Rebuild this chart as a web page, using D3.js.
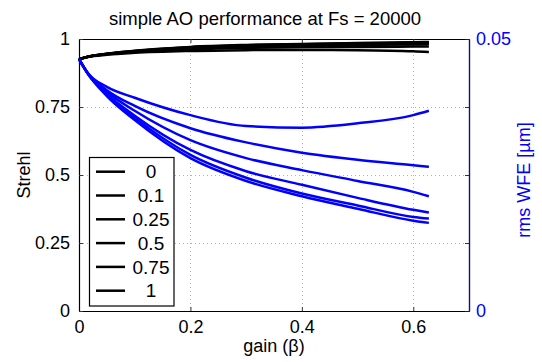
<!DOCTYPE html>
<html>
<head>
<meta charset="utf-8">
<script src="https://cdn.jsdelivr.net/npm/d3@7"></script>
<style>
  body { margin: 0; background: #fff; }
  svg { display: block; font-family: "Liberation Sans", Arial, Helvetica, sans-serif; }
</style>
</head>
<body>
<svg class="canvas"></svg>
<script>
// Data
const gain = [0, 0.016, 0.05, 0.1, 0.2, 0.3, 0.4, 0.5, 0.6, 0.628];

// Strehl (left axis), one row per curve
const strehl = [
  [0.926, 0.934, 0.942, 0.949, 0.956, 0.959, 0.960, 0.959, 0.955, 0.952],
  [0.926, 0.935, 0.944, 0.952, 0.962, 0.967, 0.970, 0.971, 0.972, 0.972],
  [0.926, 0.935, 0.945, 0.954, 0.966, 0.972, 0.976, 0.978, 0.980, 0.981],
  [0.926, 0.935, 0.945, 0.955, 0.968, 0.975, 0.979, 0.982, 0.985, 0.985],
  [0.926, 0.935, 0.946, 0.956, 0.970, 0.977, 0.981, 0.984, 0.987, 0.988],
  [0.926, 0.935, 0.946, 0.957, 0.971, 0.978, 0.982, 0.985, 0.988, 0.989]
];

// rms WFE in microns (right axis)
const wfe = [
  [0.0463, 0.0437, 0.0412, 0.0392, 0.0360, 0.0340, 0.0337, 0.0345, 0.0360, 0.0368],
  [0.0463, 0.0437, 0.0406, 0.0377, 0.0336, 0.0310, 0.0291, 0.0278, 0.0268, 0.0265],
  [0.0463, 0.0437, 0.0403, 0.0368, 0.0314, 0.0281, 0.0259, 0.0239, 0.0219, 0.0211],
  [0.0463, 0.0436, 0.0399, 0.0359, 0.0296, 0.0257, 0.0232, 0.0208, 0.0186, 0.0181],
  [0.0463, 0.0436, 0.0397, 0.0355, 0.0287, 0.0245, 0.0216, 0.0194, 0.0173, 0.0170],
  [0.0463, 0.0436, 0.0395, 0.0351, 0.0281, 0.0239, 0.0211, 0.0188, 0.0166, 0.0162]
];

const legendLabels = ['0', '0.1', '0.25', '0.5', '0.75', '1'];
const xTicks = [0, 0.2, 0.4, 0.6];
const yTicks = [0, 0.25, 0.5, 0.75, 1];
const yTickLabels = ['0', '0.25', '0.5', '0.75', '1'];
const rightTicks = [0, 0.05];
const rightTickLabels = ['0', '0.05'];

// Setting constants
const wWidth = 542;
const wHeight = 362;
const plot = {left: 79, right: 469, top: 39, bottom: 311};
const blue = '#0000ff';
const font = 18;

const svg = d3.select('.canvas')
  .attr('width', wWidth)
  .attr('height', wHeight);

// scales
const xScale = d3.scaleLinear().domain([0, 0.7]).range([plot.left, plot.right]);
const yScale = d3.scaleLinear().domain([0, 1]).range([plot.bottom, plot.top]);
const y2Scale = d3.scaleLinear().domain([0, 0.05]).range([plot.bottom, plot.top]);

// grid
const grid = svg.append('g')
  .attr('stroke', '#b4b4b4')
  .attr('stroke-width', 1)
  .attr('stroke-dasharray', '1,3');
grid.selectAll('.gx')
  .data(xTicks.filter(d => d > 0))
  .enter().append('line')
  .attr('x1', d => Math.round(xScale(d)) + 0.5)
  .attr('x2', d => Math.round(xScale(d)) + 0.5)
  .attr('y1', plot.top)
  .attr('y2', plot.bottom);
grid.selectAll('.gy')
  .data(yTicks.filter(d => d > 0 && d < 1))
  .enter().append('line')
  .attr('y1', d => Math.round(yScale(d)) + 0.5)
  .attr('y2', d => Math.round(yScale(d)) + 0.5)
  .attr('x1', plot.left)
  .attr('x2', plot.right);

// axes (MATLAB style, inward ticks)
const xAxisB = d3.axisBottom(xScale).tickValues(xTicks).tickSizeInner(-4).tickSizeOuter(0).tickPadding(9)
  .tickFormat(d => d === 0 ? '0' : d3.format('.1f')(d));
const xAxisT = d3.axisTop(xScale).tickValues(xTicks).tickSizeInner(-4).tickSizeOuter(0).tickFormat('');
const yAxisL = d3.axisLeft(yScale).tickValues(yTicks).tickSizeInner(-4).tickSizeOuter(0).tickPadding(9)
  .tickFormat((d, i) => yTickLabels[i]);
const yAxisR = d3.axisRight(yScale).tickValues(yTicks).tickSizeInner(-4).tickSizeOuter(0).tickFormat('');
const y2Axis = d3.axisRight(y2Scale).tickValues(rightTicks).tickSizeInner(-4).tickSizeOuter(0).tickPadding(7)
  .tickFormat((d, i) => rightTickLabels[i]);

function styleAxis(g, color) {
  g.attr('font-size', font).attr('font-family', null);
  g.select('.domain').attr('stroke', color).attr('stroke-width', 1.2);
  g.selectAll('.tick line').attr('stroke', color === blue ? blue : '#333');
  g.selectAll('.tick text').attr('fill', color);
}

svg.append('g').attr('transform', `translate(0,${plot.bottom})`).call(xAxisB).call(g => styleAxis(g, '#000'));
svg.append('g').attr('transform', `translate(0,${plot.top})`).call(xAxisT).call(g => styleAxis(g, '#000'));
svg.append('g').attr('transform', `translate(${plot.left},0)`).call(yAxisL).call(g => styleAxis(g, '#000'));
svg.append('g').attr('transform', `translate(${plot.right},0)`).call(yAxisR).call(g => styleAxis(g, '#000'));
svg.append('g').attr('transform', `translate(${plot.right},0)`).call(y2Axis).call(g => styleAxis(g, blue));

// lines
const strehlLine = d3.line()
  .x((d, i) => xScale(gain[i]))
  .y(d => yScale(d))
  .curve(d3.curveMonotoneX);
const wfeLine = d3.line()
  .x((d, i) => xScale(gain[i]))
  .y(d => y2Scale(d))
  .curve(d3.curveMonotoneX);

svg.append('g').selectAll('path')
  .data(strehl)
  .enter().append('path')
  .attr('d', strehlLine)
  .attr('fill', 'none')
  .attr('stroke', '#000')
  .attr('stroke-width', 2.5);

svg.append('g').selectAll('path')
  .data(wfe)
  .enter().append('path')
  .attr('d', wfeLine)
  .attr('fill', 'none')
  .attr('stroke', blue)
  .attr('stroke-width', 2.5);

// title and axis labels
svg.append('text')
  .attr('x', 265)
  .attr('y', 25)
  .attr('text-anchor', 'middle')
  .attr('font-size', 18.5)
  .text('simple AO performance at Fs = 20000');

svg.append('text')
  .attr('x', (plot.left + plot.right) / 2)
  .attr('y', 352)
  .attr('text-anchor', 'middle')
  .attr('font-size', font)
  .text('gain (β)');

svg.append('text')
  .attr('transform', `translate(30, ${(plot.top + plot.bottom) / 2}) rotate(-90)`)
  .attr('text-anchor', 'middle')
  .attr('font-size', font)
  .text('Strehl');

svg.append('text')
  .attr('transform', `translate(530, 180) rotate(-90)`)
  .attr('text-anchor', 'middle')
  .attr('font-size', font)
  .attr('fill', blue)
  .text('rms WFE [µm]');

// legend
const legY = d3.scalePoint().domain(legendLabels).range([171.7, 290.7]);
const legend = svg.append('g');
legend.append('rect')
  .attr('x', 89.5)
  .attr('y', 157.5)
  .attr('width', 84.5)
  .attr('height', 148.5)
  .attr('fill', '#fff')
  .attr('stroke', '#000')
  .attr('stroke-width', 1.2);
const items = legend.selectAll('.item')
  .data(legendLabels)
  .enter().append('g')
  .attr('transform', d => `translate(0, ${legY(d)})`);
items.append('line')
  .attr('x1', 96).attr('x2', 125)
  .attr('stroke', '#000')
  .attr('stroke-width', 2.5);
items.append('text')
  .attr('x', 151)
  .attr('dy', '0.35em')
  .attr('text-anchor', 'middle')
  .attr('font-size', 19)
  .text(d => d);
</script>
</body>
</html>
